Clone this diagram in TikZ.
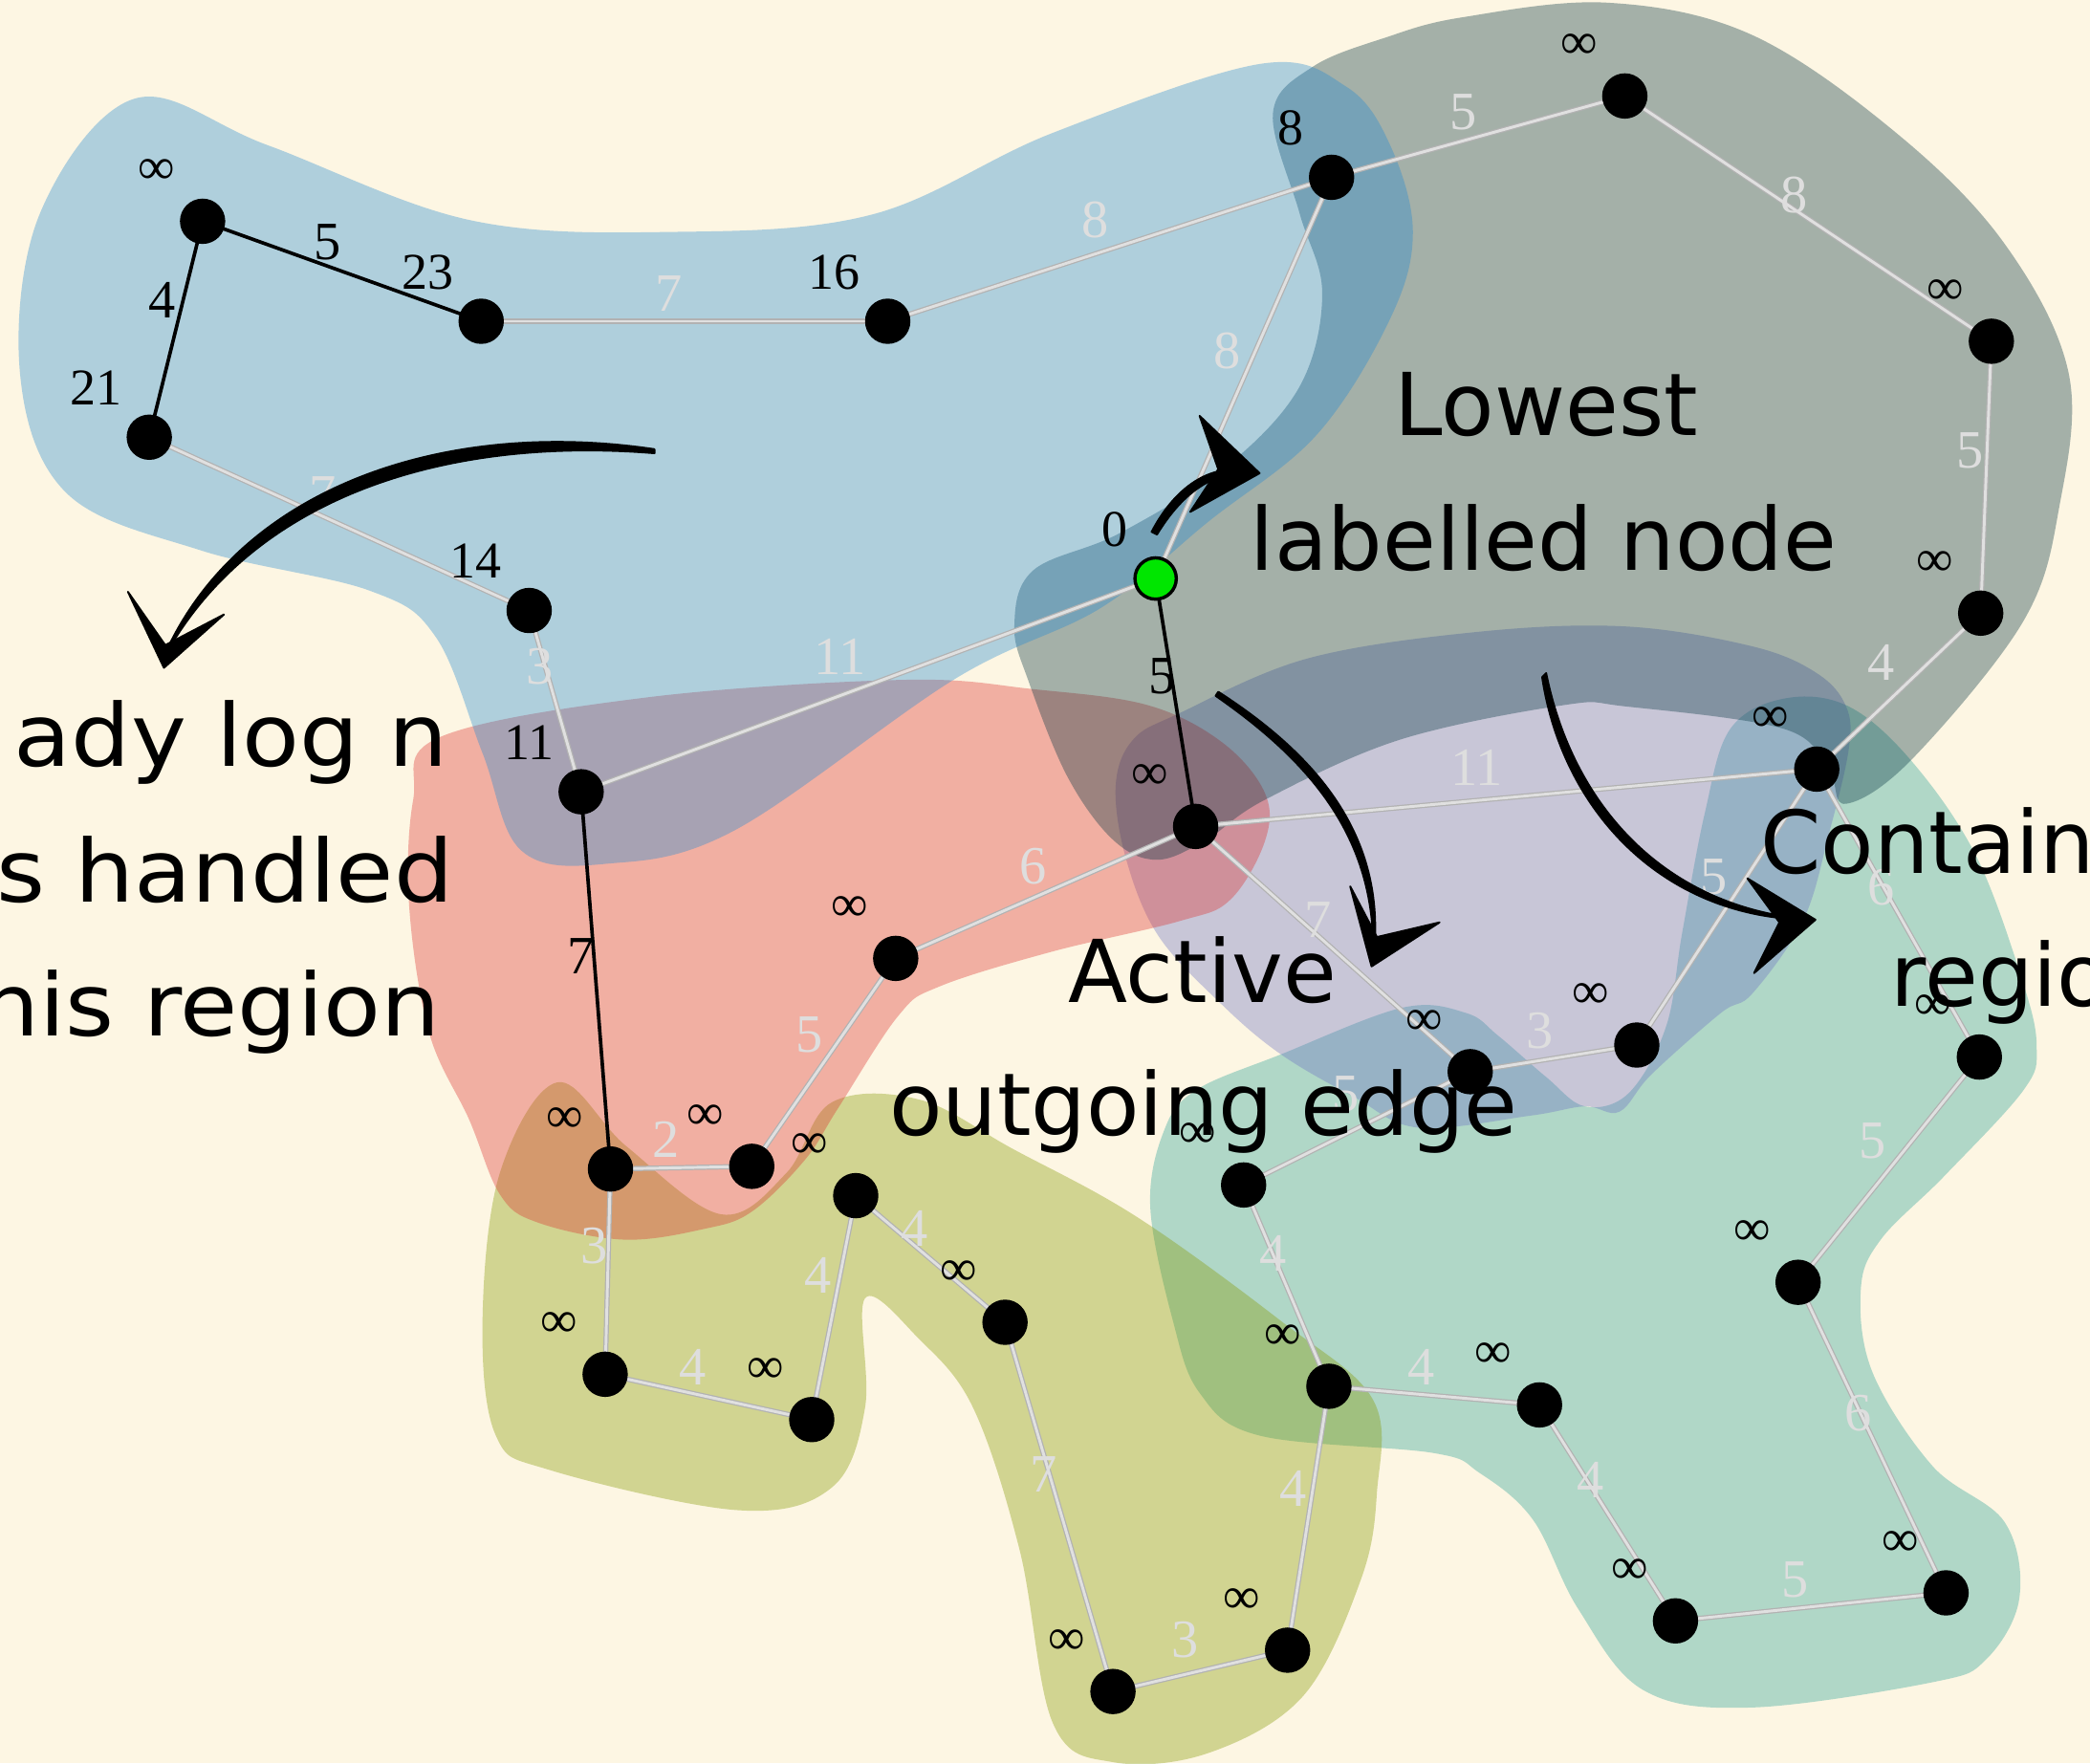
\documentclass[tikz,border=0pt]{standalone}
\usepackage{fontspec}
\setmainfont{Liberation Serif}
\newfontfamily\handfont{DejaVu Sans}
\usetikzlibrary{calc}

\definecolor{paper}{HTML}{FDF6E3}
\definecolor{sblue}{HTML}{268BD2}
\definecolor{sbase}{HTML}{073642}
\definecolor{sred}{HTML}{DC322F}
\definecolor{sviolet}{HTML}{6C71C4}
\definecolor{sgreen}{HTML}{859900}
\definecolor{scyan}{HTML}{2AA198}
\definecolor{live}{RGB}{0,230,0}
\definecolor{faint}{RGB}{222,222,222}

\tikzset{
  blob/.style={fill=#1, fill opacity=0.36, draw=none},
  vertex/.style={circle, fill=black, inner sep=0pt, minimum size=0.34cm},
  source/.style={circle, fill=live, draw=black, line width=0.7pt, inner sep=0pt, minimum size=0.31cm},
  lightedge/.style={draw=black!30, double=black!12, double distance=0.6pt, line width=0.25pt},
  treeedge/.style={draw=black, line width=0.75pt},
  dist/.style={font=\fontsize{11}{12}\selectfont, text=black, inner sep=0pt, anchor=east},
  wlab/.style={font=\fontsize{11.5}{12}\selectfont, text=faint, inner sep=0pt},
  blab/.style={font=\fontsize{11.5}{12}\selectfont, text=black, inner sep=0pt},
  note/.style={font=\handfont\fontsize{18.5}{20}\selectfont, inner sep=0pt, anchor=base},
  widenote/.style={note, transform shape, xscale=1.08},
  ink/.style={fill=black, draw=black, line width=0.4pt, line join=round},
}

\begin{document}
\begin{tikzpicture}[x=0.01cm, y=-0.01cm]
\useasboundingbox (0,0) rectangle (1568,1323);
\clip (0,0) rectangle (1568,1323);
\fill[paper] (0,0) rectangle (1568,1323);

% ---- regions ----
\fill[blob=scyan] plot[smooth cycle, tension=0.6] coordinates {
  (880,991) (863,906) (873,849) (897,818) (961,791) (1052,756) (1100,760)
  (1124,777) (1160,808) (1189,830) (1222,820) (1250,770) (1262,700)
  (1279,610) (1298,547) (1339,524) (1387,530) (1435,572) (1483,643)
  (1518,738) (1528,786) (1518,818) (1459,882) (1411,930) (1396,968)
  (1405,1030) (1450,1100) (1504,1142) (1515,1199) (1490,1245) (1450,1262)
  (1314,1281) (1233,1268) (1184,1207) (1150,1140) (1110,1105) (1075,1090)
  (945,1077) (900,1045)};
\fill[blob=sviolet] plot[smooth cycle, tension=0.6] coordinates {
  (837,590) (850,555) (885,535) (981,494) (1109,474) (1220,470) (1315,485)
  (1363,505) (1385,530) (1387,562) (1372,626) (1353,690) (1315,745)
  (1291,760) (1239,806) (1215,834) (1189,830) (1148,837) (1064,846)
  (1016,823) (961,791) (916,753) (869,702) (845,645)};
\fill[blob=sgreen] plot[smooth cycle, tension=0.6] coordinates {
  (418,812) (470,860) (541,911) (590,880) (624,827) (690,825) (760,862)
  (853,913) (961,991) (1030,1050) (1033,1120) (1021,1185) (978,1272)
  (907,1315) (835,1322) (790,1293) (765,1163) (730,1056) (689,1004)
  (649,974) (649,1056) (624,1116) (554,1133) (413,1103) (372,1077)
  (362,991) (375,880)};
\fill[blob=sred] plot[smooth cycle, tension=0.6] coordinates {
  (330,553) (487,523) (679,510) (775,517) (861,529) (917,557) (949,595)
  (949,631) (923,675) (885,691) (789,714) (705,740) (674,762) (629,831)
  (604,870) (564,909) (528,922) (468,930) (403,917) (375,896) (352,840)
  (322,775) (307,680) (310,600)};
\fill[blob=sbase] plot[smooth cycle, tension=0.6] coordinates {
  (985,50) (955,85) (975,160) (992,220) (975,290) (920,350) (840,400)
  (775,428) (761,470) (772,512) (801,583) (835,630) (868,645) (905,630)
  (949,600) (1050,555) (1173,529) (1220,530) (1339,547) (1372,578)
  (1385,603) (1435,569) (1518,466) (1545,380) (1552,280) (1504,183)
  (1423,100) (1314,26) (1206,2) (1097,13) (1040,28)};
\fill[blob=sblue] plot[smooth cycle, tension=0.6] coordinates {
  (101,74) (201,109) (352,165) (503,174) (654,161) (789,100) (945,48)
  (1010,65) (1043,109) (1060,174) (1043,239) (988,326) (907,391)
  (826,456) (717,509) (551,623) (455,648) (391,638) (362,565) (327,478)
  (277,443) (151,413) (50,370) (15,280) (30,160)};

% ---- vertices ----
\foreach \n/\x/\y in {A/152/166, B/112/328, C/361/241, D/666/241, E/999/133,
  F/1219/72, G/1494/256, H/1486/460, I/1363/577, J/397/458, K/436/594,
  L/897/620, M/672/719, N/458/877, O/564/875, P/642/897, Q/454/1031,
  R/609/1065, T/754/992, U/835/1269, V/966/1238, W/933/889, X/1103/804,
  Y/1228/784, Z/1485/793, AA/1349/962, AB/997/1040, AC/1155/1054,
  AD/1257/1216, AE/1460/1195}
  \coordinate (\n) at (\x,\y);
\coordinate (S) at (867,434);

% ---- edges ----
\foreach \a/\b/\w/\x/\y in {C/D/7/502/220, D/E/8/822/165, E/F/5/1098/84,
  F/G/8/1346/146, G/H/5/1478/338, H/I/4/1411/497, E/S/8/921/263,
  B/J/7/242/371, J/K/3/405/500, K/S/11/630/493, L/M/6/775/650,
  L/I/11/1108/576, L/X/7/989/690, M/O/5/607/776, N/O/2/500/855,
  N/Q/3/446/935, Q/R/4/520/1026, R/P/4/614/957, P/T/4/686/922,
  T/U/7/783/1106, U/V/3/889/1230, V/AB/4/970/1117, AB/W/4/955/940,
  W/X/5/1010/821, X/Y/3/1155/773, Y/I/5/1286/658, I/Z/6/1411/666,
  Z/AA/5/1405/856, AA/AE/6/1394/1060, AE/AD/5/1347/1185,
  AD/AC/4/1193/1110, AC/AB/4/1066/1026}
{
  \draw[lightedge] (\a) -- (\b);
  \node[wlab] (w-\a-\b) at (\x,\y) {\w};
}
\foreach \a/\b/\w/\x/\y in {A/C/5/246/182, A/B/4/122/225, K/N/7/436/717,
  S/L/5/872/507}
{
  \draw[treeedge] (\a) -- (\b);
  \node[blab] (w-\a-\b) at (\x,\y) {\w};
}

% ---- vertex discs and tentative distances ----
\foreach \n/\d in {A/∞, B/21, C/23, D/16, E/8, F/∞, G/∞, H/∞, I/∞, J/14,
  K/11, L/∞, M/∞, N/∞, O/∞, P/∞, Q/∞, R/∞, T/∞, U/∞, V/∞, W/∞, X/∞,
  Y/∞, Z/∞, AA/∞, AB/∞, AC/∞, AD/∞, AE/∞}
{
  \node[vertex] (v-\n) at (\n) {};
  \node[dist] (d-\n) at ($(\n)+(-20,-37)$) {\d};
}
\node[source] (v-S) at (S) {};
\node[dist] (d-S) at ($(S)+(-20,-37)$) {0};

% ---- notes ----
\node[note] (low1) at (1160,327) {Lowest};
\node[note] (low2) at (1158,428) {labelled node};
\node[note] (act1) at (902,752) {Active};
\node[note] (act2) at (903,852) {outgoing edge};
\node[widenote, anchor=base east] (al1) at (337,575) {ady log n};
\node[widenote, anchor=base east] (al2) at (341,677) {s handled};
\node[widenote, anchor=base east] (al3) at (331,777) {his region};
\node[note, anchor=base west] (co1) at (1320,655) {Contain};
\node[note, anchor=base west] (co2) at (1418,755) {regio};

% ---- brush arrows ----
% towards the handled region
\fill[ink] (491,337) .. controls (330,313) and (175,368) .. (121,497)
  .. controls (186,374) and (332,327) .. (491,340) -- cycle;
\fill[ink] (96,444) -- (123,501) -- (168,461) -- (124,484) -- cycle;
% towards the lowest labelled node
\fill[ink] (864,399) .. controls (878,372) and (905,343) .. (944,355)
  .. controls (906,350) and (882,378) .. (868,401) -- cycle;
\fill[ink] (900,312) -- (945,355) -- (893,384) -- (914,352) -- cycle;
% towards the active outgoing edge
\fill[ink] (914,519) .. controls (990,568) and (1042,630) .. (1030,722)
  .. controls (1034,630) and (984,572) .. (912,522) -- cycle;
\fill[ink] (1013,665) -- (1029,725) -- (1080,692) -- (1033,703) -- cycle;
% towards the containing region
\fill[ink] (1160,505) .. controls (1180,605) and (1250,682) .. (1360,690)
  .. controls (1248,690) and (1172,608) .. (1157,508) -- cycle;
\fill[ink] (1311,659) -- (1362,690) -- (1316,730) -- (1335,692) -- cycle;
\end{tikzpicture}
\end{document}
